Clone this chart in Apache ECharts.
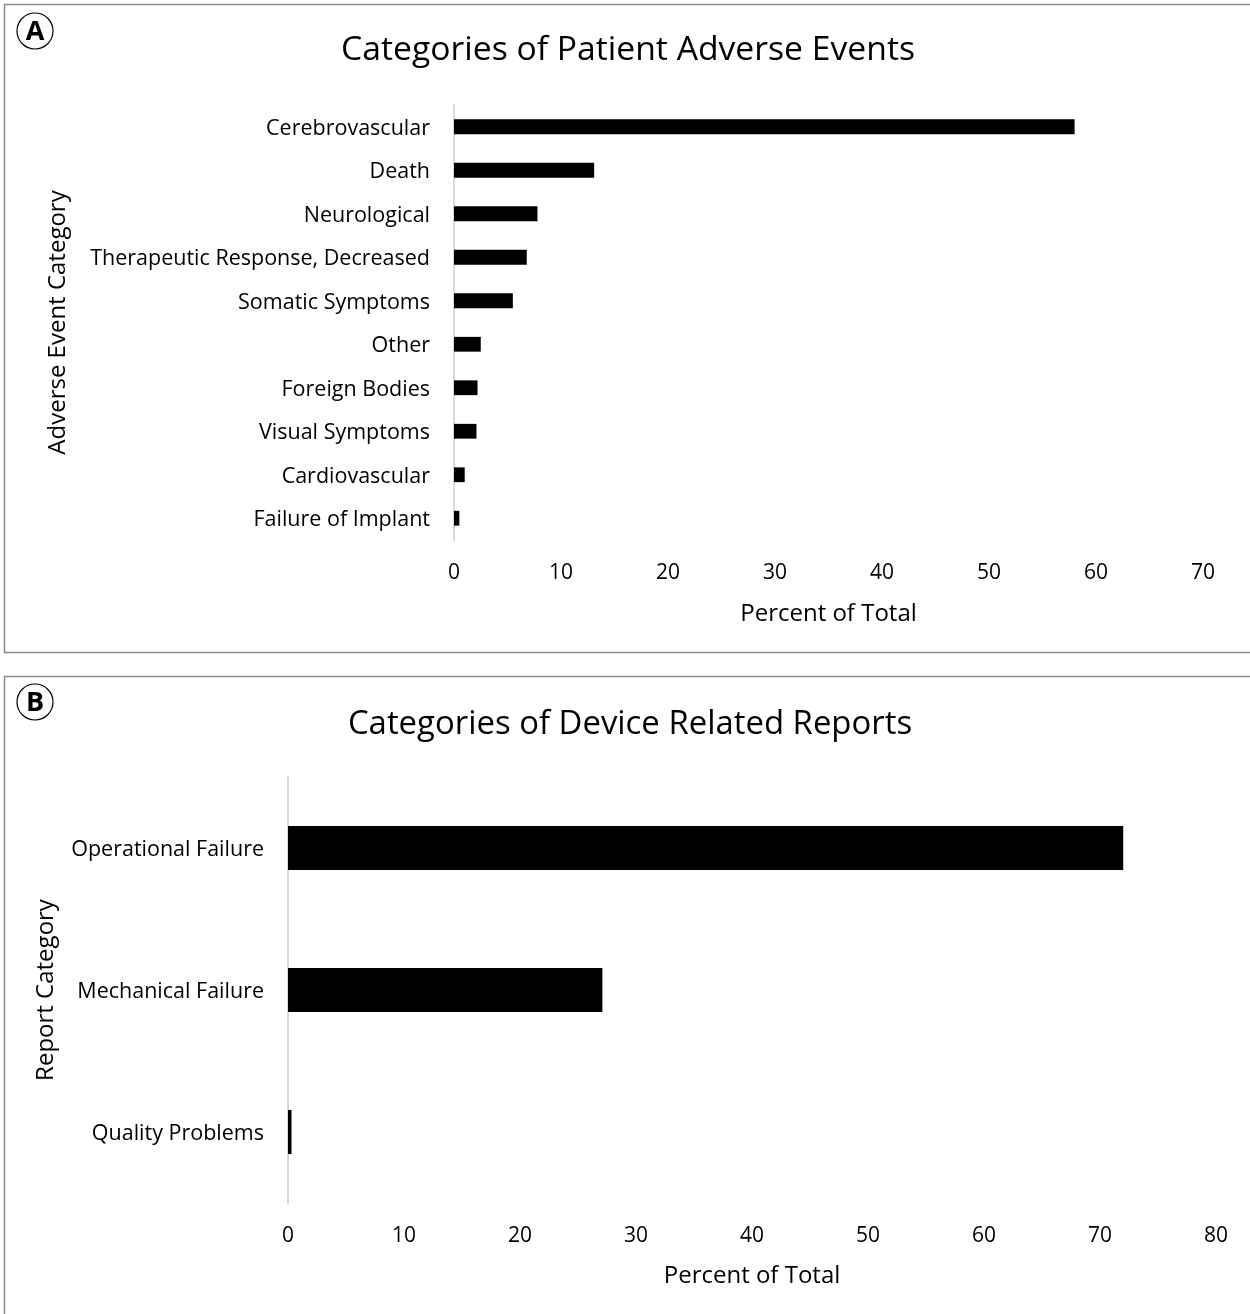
<!DOCTYPE html>
<html>
<head>
<meta charset="utf-8">
<script src="https://cdn.jsdelivr.net/npm/echarts@6/dist/echarts.min.js"></script>
<style>
  html, body { margin: 0; padding: 0; background: #fff; }
  #chart { width: 1250px; height: 1314px; }
</style>
</head>
<body>
<div id="chart"></div>
<script>
// Panel A: patient adverse events (percent of total)
const eventCategories = [
  'Cerebrovascular', 'Death', 'Neurological', 'Therapeutic Response, Decreased',
  'Somatic Symptoms', 'Other', 'Foreign Bodies', 'Visual Symptoms',
  'Cardiovascular', 'Failure of Implant'
];
const eventPercents = [58, 13.1, 7.8, 6.8, 5.5, 2.5, 2.2, 2.1, 1.0, 0.5];
const eventTicks = [0, 10, 20, 30, 40, 50, 60, 70];

// Panel B: device related reports (percent of total)
const reportCategories = ['Operational Failure', 'Mechanical Failure', 'Quality Problems'];
const reportPercents = [72, 27.1, 0.3];
const reportTicks = [0, 10, 20, 30, 40, 50, 60, 70, 80];

const FONT = '"Open Sans", sans-serif';
const TXT = '#000';

const chart = echarts.init(document.getElementById('chart'), null, { renderer: 'canvas' });

function valueAxis(gridIndex, ticks, name, nameGap) {
  return {
    type: 'value', gridIndex,
    min: ticks[0], max: ticks[ticks.length - 1], interval: ticks[1] - ticks[0],
    name, nameLocation: 'middle', nameGap,
    nameTextStyle: { fontFamily: FONT, fontSize: 24, color: TXT },
    axisLine: { show: false }, axisTick: { show: false }, splitLine: { show: false },
    axisLabel: { fontFamily: FONT, fontSize: 21, color: TXT, margin: 23 }
  };
}

function categoryAxis(gridIndex, cats, name, nameGap) {
  return {
    type: 'category', gridIndex, data: cats, inverse: true,
    name, nameLocation: 'middle', nameGap, nameRotate: 90,
    nameTextStyle: { fontFamily: FONT, fontSize: 24, color: TXT },
    axisLine: { show: true, lineStyle: { color: '#d9d9d9', width: 2 } },
    axisTick: { show: false },
    axisLabel: {
      margin: 24,
      formatter: (v) => '{c|' + v + '}',
      rich: { c: { fontFamily: FONT, fontSize: 21.5, color: TXT, padding: [4, 0, 0, 0] } }
    }
  };
}

chart.setOption({
  animation: false,
  backgroundColor: '#fff',
  title: [
    { text: 'Categories of Patient Adverse Events', left: 623, top: 28, textAlign: 'center',
      textStyle: { fontFamily: FONT, fontSize: 33.7, fontWeight: 'normal', color: TXT } },
    { text: 'Categories of Device Related Reports', left: 625, top: 703, textAlign: 'center',
      textStyle: { fontFamily: FONT, fontSize: 32.9, fontWeight: 'normal', color: TXT } }
  ],
  grid: [
    { left: 454, right: 47, top: 105, bottom: 774 },
    { left: 288, right: 34, top: 777, bottom: 111 }
  ],
  xAxis: [
    valueAxis(0, eventTicks, 'Percent of Total', 62),
    valueAxis(1, reportTicks, 'Percent of Total', 61)
  ],
  yAxis: [
    categoryAxis(0, eventCategories, 'Adverse Event Category', 384),
    categoryAxis(1, reportCategories, 'Report Category', 230)
  ],
  series: [
    { type: 'bar', xAxisIndex: 0, yAxisIndex: 0, data: eventPercents,
      barWidth: '34%', itemStyle: { color: '#000' } },
    { type: 'bar', xAxisIndex: 1, yAxisIndex: 1, data: reportPercents,
      barWidth: '31%', itemStyle: { color: '#000' } }
  ],
  graphic: [
    { type: 'rect', shape: { x: 4.5, y: 4.5, width: 1250, height: 648 },
      style: { fill: 'none', stroke: '#8a8a8a', lineWidth: 1.5 } },
    { type: 'rect', shape: { x: 4.5, y: 676.5, width: 1250, height: 650 },
      style: { fill: 'none', stroke: '#8a8a8a', lineWidth: 1.5 } },
    { type: 'circle', shape: { cx: 35, cy: 31, r: 18 },
      style: { fill: 'none', stroke: '#000', lineWidth: 1.2 } },
    { type: 'text', x: 35, y: 32,
      style: { text: 'A', fontFamily: FONT, fontSize: 27, fontWeight: 'bold', fill: TXT,
               align: 'center', verticalAlign: 'middle' } },
    { type: 'circle', shape: { cx: 35, cy: 702, r: 18 },
      style: { fill: 'none', stroke: '#000', lineWidth: 1.2 } },
    { type: 'text', x: 35, y: 703,
      style: { text: 'B', fontFamily: FONT, fontSize: 27, fontWeight: 'bold', fill: TXT,
               align: 'center', verticalAlign: 'middle' } }
  ]
});
</script>
</body>
</html>
